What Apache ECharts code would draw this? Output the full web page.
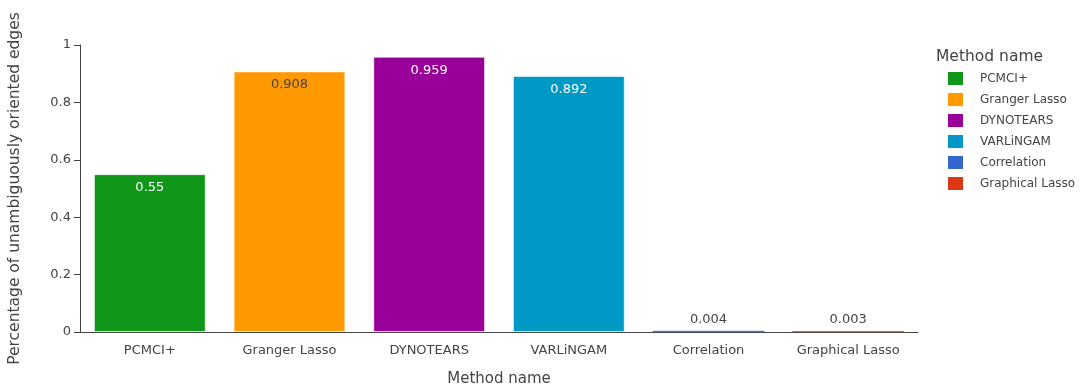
<!DOCTYPE html>
<html>
<head>
<meta charset="utf-8">
<script src="https://cdn.jsdelivr.net/npm/echarts@6/dist/echarts.min.js"></script>
<style>
  html, body { margin: 0; padding: 0; background: #fff; }
  #chart { width: 1087px; height: 388px; }
</style>
</head>
<body>
<div id="chart"></div>
<script>
// Share of unambiguously oriented edges per causal-discovery method
const methods = ['PCMCI+', 'Granger Lasso', 'DYNOTEARS', 'VARLiNGAM', 'Correlation', 'Graphical Lasso'];
const values = [0.55, 0.908, 0.959, 0.892, 0.004, 0.003];
const colors = ['#109618', '#FF9900', '#990099', '#0099C6', '#3366CC', '#DC3912'];
const labelColors = ['#ffffff', '#444444', '#ffffff', '#ffffff', '#444444', '#444444'];
const yTicks = [0, 0.2, 0.4, 0.6, 0.8, 1];

const FONT = 'DejaVu Sans, Verdana, sans-serif';
const TEXT = '#444';

// one series per method so the legend lists each; stacking keeps every bar centred
const series = methods.map((name, i) => {
  const small = values[i] < 0.05;
  return {
    name: name,
    type: 'bar',
    stack: 'methods',
    barWidth: '80%',
    data: methods.map((_, j) => (j === i ? values[i] : '-')),
    itemStyle: {
      color: colors[i],
      // thin bars keep a same-colour edge so they stay visible
      borderColor: small ? colors[i] : 'rgba(255,255,255,0.55)',
      borderWidth: small ? 0.5 : 1
    },
    label: {
      show: true,
      position: small ? 'top' : 'insideTop',
      distance: small ? 5 : 7,
      color: labelColors[i],
      fontFamily: FONT,
      fontSize: 13,
      formatter: (p) => String(p.value)
    }
  };
});

const chart = echarts.init(document.getElementById('chart'), null, { renderer: 'canvas' });
chart.setOption({
  animation: false,
  backgroundColor: '#fff',
  textStyle: { fontFamily: FONT },
  title: {
    text: 'Method name',
    left: 936,
    top: 49,
    padding: 0,
    textStyle: { fontFamily: FONT, fontSize: 15.5, fontWeight: 'normal', color: TEXT }
  },
  legend: {
    orient: 'vertical',
    left: 948,
    top: 72,
    padding: 0,
    itemWidth: 15,
    itemHeight: 13,
    itemGap: 8,
    icon: 'rect',
    data: methods,
    itemStyle: { borderWidth: 0 },
    textStyle: { fontFamily: FONT, fontSize: 12, color: TEXT, padding: [0, 0, 0, 12] }
  },
  grid: { left: 80, right: 169, top: 45, bottom: 56, containLabel: false, outerBoundsMode: 'none' },
  xAxis: {
    type: 'category',
    data: methods,
    name: 'Method name',
    nameLocation: 'middle',
    nameGap: 40,
    nameTextStyle: { fontFamily: FONT, fontSize: 15, color: TEXT },
    axisLine: { lineStyle: { color: TEXT, width: 1 } },
    axisTick: { alignWithLabel: true, length: 6, lineStyle: { color: TEXT } },
    axisLabel: { fontFamily: FONT, fontSize: 13, color: TEXT, margin: 12 }
  },
  yAxis: {
    type: 'value',
    min: yTicks[0],
    max: yTicks[yTicks.length - 1],
    interval: 0.2,
    name: 'Percentage of unambiguously oriented edges',
    nameLocation: 'middle',
    nameGap: 57,
    nameTextStyle: { fontFamily: FONT, fontSize: 15.5, color: TEXT },
    splitLine: { show: false },
    axisLine: { show: true, lineStyle: { color: TEXT, width: 1 } },
    axisTick: { show: true, length: 6, lineStyle: { color: TEXT } },
    axisLabel: {
      fontFamily: FONT, fontSize: 13, color: TEXT, margin: 9,
      formatter: (v) => String(Math.round(v * 10) / 10)
    }
  },
  series: series
});
</script>
</body>
</html>
